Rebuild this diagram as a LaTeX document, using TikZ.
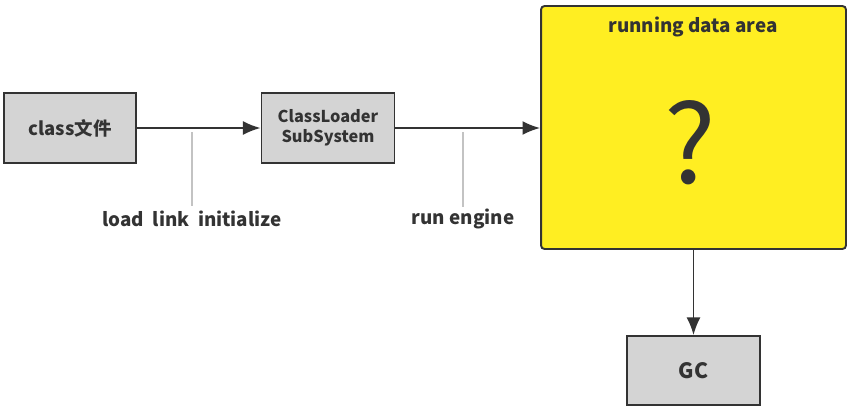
\documentclass[tikz,border=0pt]{standalone}
\usepackage{fontspec}
\setmainfont{Noto Sans CJK SC}
\usetikzlibrary{arrows.meta,positioning}
\definecolor{boxgray}{RGB}{212,212,212}
\definecolor{areayellow}{RGB}{255,238,34}
\definecolor{inkgray}{RGB}{51,51,51}
\definecolor{notegray}{RGB}{195,195,195}

\begin{document}
\begin{tikzpicture}[x=0.02cm, y=-0.02cm,
	>={Latex[length=10pt,width=8pt]},
	grayblock/.style={draw=inkgray, line width=1.1pt, fill=boxgray, text=inkgray, font=\bfseries\fontsize{10.5}{12}\selectfont, align=center, inner sep=0pt},
	notetext/.style={text=inkgray, font=\bfseries\fontsize{10.7}{12}\selectfont, inner sep=1pt},
	flow/.style={->, draw=inkgray, line width=1.1pt},
	noteline/.style={draw=notegray, line width=0.9pt}]
			\useasboundingbox (0,0) rectangle (852,413);
			% Boxes of the loading chain
			\node[grayblock, minimum width=2.64cm, minimum height=1.4cm] (classfile) at (70,128) {class文件};
			\node[grayblock, font=\bfseries\fontsize{9.3}{11.5}\selectfont, minimum width=2.66cm, minimum height=1.4cm] (loader) at (328,128) {ClassLoader\\SubSystem};
			\node[draw=inkgray, line width=1.1pt, fill=areayellow, rounded corners=2pt, minimum width=6.1cm, minimum height=4.86cm, inner sep=0pt] (area) at (693.5,127.5) {};
			\node[notetext] (areatitle) at (693,27) {running data area};
			\node[text=inkgray, font=\fontsize{62}{62}\selectfont, inner sep=0pt] (question) at (690,143) {?};
			\node[grayblock, font=\bfseries\fontsize{12}{14}\selectfont, minimum width=2.66cm, minimum height=1.38cm] (gc) at (693.5,370.5) {GC};
			
			% Connectors
			\draw[flow] (classfile) -- (loader);
			\draw[flow] (loader) -- (area.west |- loader);
			\draw[flow] (area.south -| gc) -- (gc);
			
			% Notes hanging from the arrows
			\coordinate (loadtop) at (192,132);
			\coordinate (runtop) at (463,132);
			\node[notetext] (loadnote) at (192,219) {load~~link~~initialize};
			\node[notetext] (runnote) at (463,219) {run engine};
			\draw[noteline] (loadtop) -- (192,206);
			\draw[noteline] (runtop) -- (463,207);
\end{tikzpicture}
\end{document}
